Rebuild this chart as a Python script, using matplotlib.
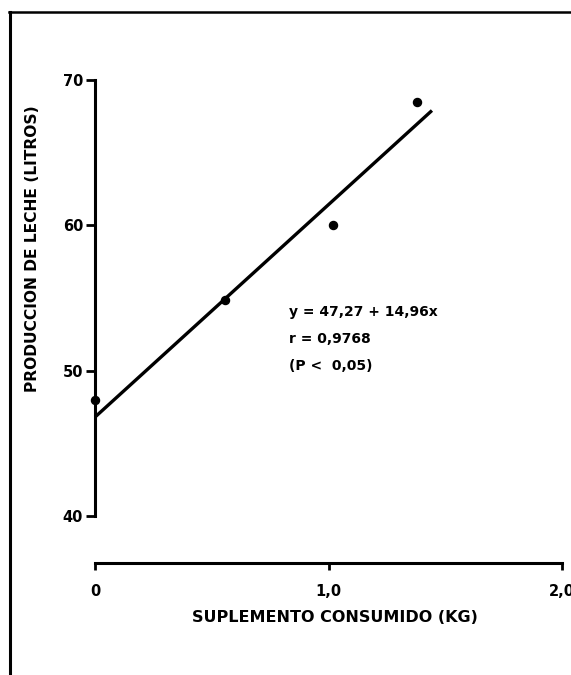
import matplotlib
matplotlib.use("Agg")
import matplotlib.pyplot as plt
from matplotlib.lines import Line2D

# Data
supl_x = [0.0, 0.557, 1.021, 1.381]
leche_y = [48.0, 54.86, 60.0, 68.5]
fit_x = [0.0, 1.443]
fit_y = [46.8, 67.9]
x_ticks = [0.0, 1.0, 2.0]
x_ticklabels = ["0", "1,0", "2,0"]
y_ticks = [40, 50, 60, 70]
y_ticklabels = ["40", "50", "60", "70"]
eq_lines = ["y = 47,27 + 14,96x", "r = 0,9768", "(P <  0,05)"]

W, H = 571, 675
plt.rcParams['font.family'] = ['DejaVu Sans']
plt.rcParams['font.weight'] = 'bold'
fig = plt.figure(figsize=(W / 100, H / 100), dpi=100)

def fx(px):
    return px / W

def fy(py):
    return 1 - py / H

ax_l, ax_r, ax_t, ax_b = 95, 562, 80, 563
ax = fig.add_axes([fx(ax_l), fy(ax_b), fx(ax_r - ax_l), (ax_b - ax_t) / H])
ax.set_xlim(0, 2.0)
ax.set_ylim(36.76, 70)

ax.plot(fit_x, fit_y, color='black', lw=2.4, solid_capstyle='butt', clip_on=False)
ax.plot(supl_x, leche_y, 'o', color='black', ms=5.8, clip_on=False)

for s in ['top', 'right']:
    ax.spines[s].set_visible(False)
ax.spines['left'].set_bounds(40, 70)
ax.spines['bottom'].set_bounds(0, 2.0)
for s in ['left', 'bottom']:
    ax.spines[s].set_linewidth(2.2)

ax.set_xticks(x_ticks)
ax.set_xticklabels(x_ticklabels, fontsize=10.5, fontweight='bold')
ax.set_yticks(y_ticks)
ax.set_yticklabels(y_ticklabels, fontsize=10.5, fontweight='bold')
ax.tick_params(axis='y', direction='out', length=6.5, width=2, pad=2)
ax.tick_params(axis='x', direction='out', length=5, width=2, pad=10)

ys = [54.0, 52.2, 50.3]
for t, yy in zip(eq_lines, ys):
    ax.text(0.83, yy, t, fontsize=10, fontweight='bold', va='center', ha='left')

fig.text(fx(335), fy(617), "SUPLEMENTO CONSUMIDO (KG)", fontsize=11.5,
         fontweight='bold', ha='center', va='center')
fig.text(fx(32.5), fy(249), "PRODUCCION DE LECHE (LITROS)", fontsize=11.2,
         fontweight='bold', ha='center', va='center', rotation=90)

# outer frame (left and top)
fig.add_artist(Line2D([fx(10), fx(10)], [fy(12), fy(675)], color='black', lw=2.2))
fig.add_artist(Line2D([fx(9), fx(571)], [fy(12), fy(12)], color='black', lw=1.8))

fig.savefig("out.png", dpi=100)
